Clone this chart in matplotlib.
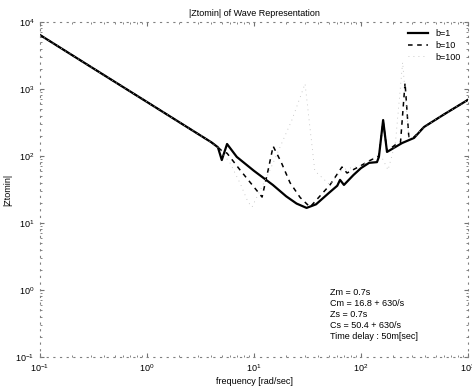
import matplotlib
matplotlib.use("Agg")
import matplotlib.pyplot as plt
import numpy as np

plt.rcParams['font.family'] = ['Liberation Sans', 'DejaVu Sans']

# |Ztomin| read per damping case, frequency in rad/sec
freq_b1 = [0.1, 0.3, 1, 2, 4, 4.6, 5.0, 5.6, 6.9, 10, 15, 20, 25, 31, 38, 50,
           60, 63.7, 69.3, 85, 100, 119, 141, 147, 161, 175, 242, 313, 388, 600, 1000]
mag_b1 = [6400, 2130, 640, 320, 160, 135, 87, 151, 97, 60, 37, 25, 19.5, 16.8, 19, 28,
          36, 44, 37, 52, 66, 79, 81, 97, 344, 115, 156, 186, 271, 420, 690]

freq_b10 = [0.1, 0.3, 1, 2, 4, 4.6, 5.0, 5.6, 7.4, 9.5, 11.9, 13.5, 15.1, 18, 21.7,
            27, 33.4, 42, 51.3, 66.4, 74, 100, 120, 147, 161, 175, 208, 234, 258, 280,
            313, 388, 600, 1000]
mag_b10 = [6400, 2130, 640, 320, 160, 135, 120, 110, 62, 38, 24.4, 60, 140, 80, 40,
           24, 17.3, 26, 37, 68.5, 55.7, 72, 85, 100, 330, 118, 146, 160, 1230, 190,
           192, 271, 420, 690]

freq_b100 = [0.1, 0.3, 1, 2, 4, 4.6, 5.97, 7.4, 8.79, 9.58, 14, 22.6, 30, 37, 51.3,
             66.4, 100, 120, 150, 179, 210, 245, 280, 313, 388, 600, 1000]
mag_b100 = [6400, 2130, 640, 320, 160, 135, 78.7, 39.5, 20.6, 17.3, 60, 344, 1200, 60,
            37, 62, 72, 85, 110, 61.8, 160, 2500, 186, 190, 271, 420, 690]

notes = ["Zm = 0.7s", "Cm = 16.8 + 630/s", "Zs = 0.7s",
         "Cs = 50.4 + 630/s", "Time delay : 50m[sec]"]

fig = plt.figure(figsize=(4.72, 3.92), dpi=100)
ax = fig.add_axes([40/472, 35/392, 428/472, 335/392])

ax.plot(freq_b1, mag_b1, color='black', lw=1.6, label='b=1')
ax.plot(freq_b10, mag_b10, color='black', lw=1.1, ls=(0, (3, 3)), label='b=10')
ax.plot(freq_b100, mag_b100, color='0.72', lw=0.6, ls=(0, (1, 5)), label='b=100')

ax.set_xscale('log')
ax.set_yscale('log')
ax.set_xlim(0.1, 1000)
ax.set_ylim(0.1, 1e4)

# scanned-looking frame: faint dotted spines and ticks
for sp in ax.spines.values():
    sp.set_linestyle((0, (1, 5)))
    sp.set_color('0.5')
    sp.set_linewidth(0.8)
ax.tick_params(which='both', direction='in', top=True, right=True,
               color='0.45', labelsize=6.5, pad=4)
ax.tick_params(which='major', length=3)
ax.tick_params(which='minor', length=1.5)

ax.set_title('|Ztomin| of Wave Representation', fontsize=6.5, pad=4)
ax.set_xlabel('frequency [rad/sec]', fontsize=6.5, labelpad=2)
ax.set_ylabel('|Ztomin|', fontsize=6.5, labelpad=2)

ax.text(0.678, 0.207, "\n".join(notes), transform=ax.transAxes,
        fontsize=6.5, linespacing=1.3, va='top', ha='left')

leg = ax.legend(loc='upper right', fontsize=6.5, frameon=False,
                handlelength=2.2, handletextpad=0.8, labelspacing=0.3,
                borderaxespad=0.4)

fig.savefig('out.png', dpi=100)
